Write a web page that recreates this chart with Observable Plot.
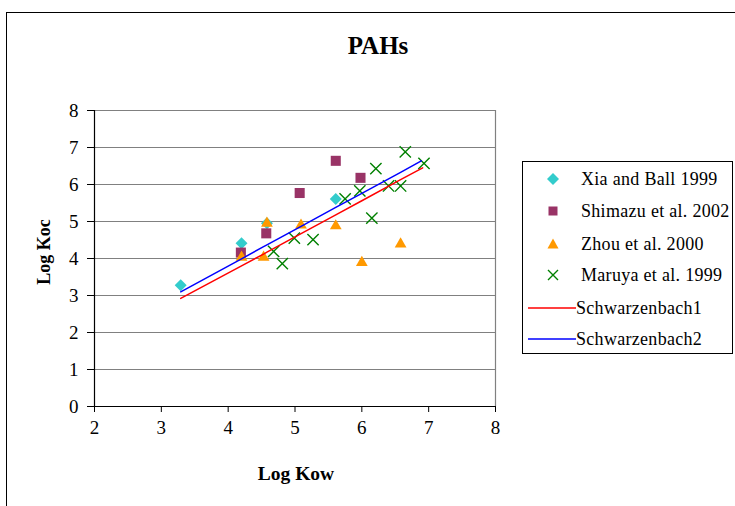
<!DOCTYPE html>
<html><head><meta charset="utf-8">
<script src="https://cdn.jsdelivr.net/npm/d3@7"></script>
<script src="https://cdn.jsdelivr.net/npm/@observablehq/plot@0.6"></script>
<style>
body{margin:0;background:#fff;}
#wrap{position:relative;width:735px;height:506px;overflow:hidden;font-family:"Liberation Serif","Times New Roman",serif;background:#fff;}
#chart{position:absolute;left:0;top:0;}
#frame{position:absolute;left:6px;top:12px;width:760px;height:520px;border:1.5px solid #000;box-sizing:border-box;pointer-events:none;}
.lbl{position:absolute;font-weight:bold;color:#000;white-space:nowrap;text-align:center;line-height:1;}
#legend{position:absolute;left:522px;top:161px;width:211px;height:193px;border:1px solid #000;box-sizing:border-box;background:#fff;}
.row{position:absolute;left:0;height:20px;display:flex;align-items:center;font-size:18px;letter-spacing:0.3px;white-space:nowrap;}
.row svg{display:block;}
</style>
</head><body>
<div id="wrap">
  <div id="chart"></div>
  <div id="frame"></div>
  <div class="lbl" id="title" style="left:278px;width:200px;top:33px;font-size:25px;">PAHs</div>
  <div class="lbl" id="xlab" style="left:196px;width:200px;top:464px;font-size:19.5px;">Log Kow</div>
  <div class="lbl" id="ylab" style="left:-56px;width:200px;top:243px;font-size:18px;transform:rotate(-90deg);">Log Koc</div>
  <div id="legend"></div>
</div>
<script>
// ---- data ----
const xTicks = [2, 3, 4, 5, 6, 7, 8];
const yTicks = [0, 1, 2, 3, 4, 5, 6, 7, 8];

const seriesNames = ["Xia and Ball 1999", "Shimazu et al. 2002", "Zhou et al. 2000", "Maruya et al. 1999", "Schwarzenbach1", "Schwarzenbach2"];

const xiaX = [3.29, 4.20, 4.58, 5.61];
const xiaY = [3.28, 4.41, 4.95, 5.61];

const shimazuX = [4.19, 4.57, 5.07, 5.61, 5.98];
const shimazuY = [4.16, 4.68, 5.77, 6.64, 6.18];

const zhouX = [4.20, 4.53, 4.58, 5.09, 5.61, 6.00, 6.58];
const zhouY = [4.03, 4.03, 4.95, 4.90, 4.88, 3.89, 4.39];

const maruyaX = [4.68, 4.81, 4.99, 5.27, 5.75, 5.97, 6.15, 6.21, 6.40, 6.58, 6.65, 6.93];
const maruyaY = [4.19, 3.86, 4.55, 4.51, 5.61, 5.83, 5.09, 6.43, 5.96, 5.96, 6.88, 6.57];

const schw1X = [3.29, 4.20, 4.53, 4.58, 5.07, 5.61, 6.00, 6.58, 6.91];
const schw1Y = [2.92, 3.80, 4.12, 4.17, 4.65, 5.18, 5.56, 6.13, 6.45];

const schw2X = [3.29, 4.20, 4.53, 4.58, 5.07, 5.61, 6.00, 6.58, 6.89];
const schw2Y = [3.10, 3.99, 4.32, 4.37, 4.85, 5.38, 5.76, 6.33, 6.64];

// ---- styles ----
const colors = ["#33CCCC", "#993366", "#FF9900", "#008000", "#FF0000", "#0000FF"];

const pts = (xs, ys) => xs.map((x, i) => ({x, y: ys[i]}));

const chart = Plot.plot({
  width: 735,
  height: 506,
  marginLeft: 94,
  marginRight: 240,
  marginTop: 110,
  marginBottom: 100,
  style: {fontFamily: "'Liberation Serif', 'Times New Roman', serif", fontSize: "19px", color: "#000", background: "transparent"},
  x: {domain: [2, 8], label: null},
  y: {domain: [0, 8], label: null},
  marks: [
    Plot.gridY(yTicks.filter(d => d > 0), {stroke: "#808080", strokeOpacity: 1, strokeWidth: 1.2}),
    Plot.ruleX([8], {stroke: "#808080", strokeWidth: 1.2}),
    Plot.ruleY([0], {stroke: "#000", strokeWidth: 1.2}),
    Plot.ruleX([2], {stroke: "#000", strokeWidth: 1.2}),
    Plot.axisX({ticks: xTicks, tickSize: 6, tickPadding: 8, tickFormat: d => String(d), fontSize: 19}),
    Plot.axisY({ticks: yTicks, tickSize: 7, tickPadding: 9, tickFormat: d => String(d), fontSize: 19}),
    Plot.dot(pts(xiaX, xiaY), {x: "x", y: "y", symbol: "diamond2", r: 5.4, fill: colors[0], stroke: "none"}),
    Plot.dot(pts(shimazuX, shimazuY), {x: "x", y: "y", symbol: "square2", r: 6.4, fill: colors[1], stroke: "none"}),
    Plot.dot(pts(zhouX, zhouY), {x: "x", y: "y", symbol: "triangle2", r: 5.6, fill: colors[2], stroke: "none"}),
    Plot.dot(pts(maruyaX, maruyaY), {x: "x", y: "y", symbol: "times", r: 5.2, stroke: colors[3], strokeWidth: 1.4, fill: "none"}),
    Plot.line(pts(schw1X, schw1Y), {x: "x", y: "y", stroke: colors[4], strokeWidth: 1.5}),
    Plot.line(pts(schw2X, schw2Y), {x: "x", y: "y", stroke: colors[5], strokeWidth: 1.5})
  ]
});
document.getElementById("chart").appendChild(chart);

// ---- legend ----
const legend = document.getElementById("legend");
const rowTops = [7, 39, 72, 103, 136, 167];
const markerSvg = [
  `<svg width="20" height="20"><path d="M10,4 L16,10 L10,16 L4,10 Z" fill="${colors[0]}"/></svg>`,
  `<svg width="20" height="20"><rect x="5.5" y="5.5" width="9" height="9" fill="${colors[1]}"/></svg>`,
  `<svg width="20" height="20"><path d="M10,4.5 L15.5,14.5 L4.5,14.5 Z" fill="${colors[2]}"/></svg>`,
  `<svg width="20" height="20"><path d="M5,5 L15,15 M15,5 L5,15" stroke="${colors[3]}" stroke-width="1.4"/></svg>`,
  `<svg width="48" height="20"><line x1="0" y1="10" x2="48" y2="10" stroke="${colors[4]}" stroke-width="1.5"/></svg>`,
  `<svg width="48" height="20"><line x1="0" y1="10" x2="48" y2="10" stroke="${colors[5]}" stroke-width="1.5"/></svg>`
];
seriesNames.forEach((name, i) => {
  const row = document.createElement("div");
  row.className = "row";
  row.style.top = rowTops[i] + "px";
  if (i < 4) {
    row.style.left = "20px";
    row.innerHTML = markerSvg[i] + `<span style="margin-left:18px">${name}</span>`;
  } else {
    row.style.left = "5px";
    row.innerHTML = markerSvg[i] + `<span style="margin-left:0px">${name}</span>`;
  }
  legend.appendChild(row);
});
</script>
</body></html>
